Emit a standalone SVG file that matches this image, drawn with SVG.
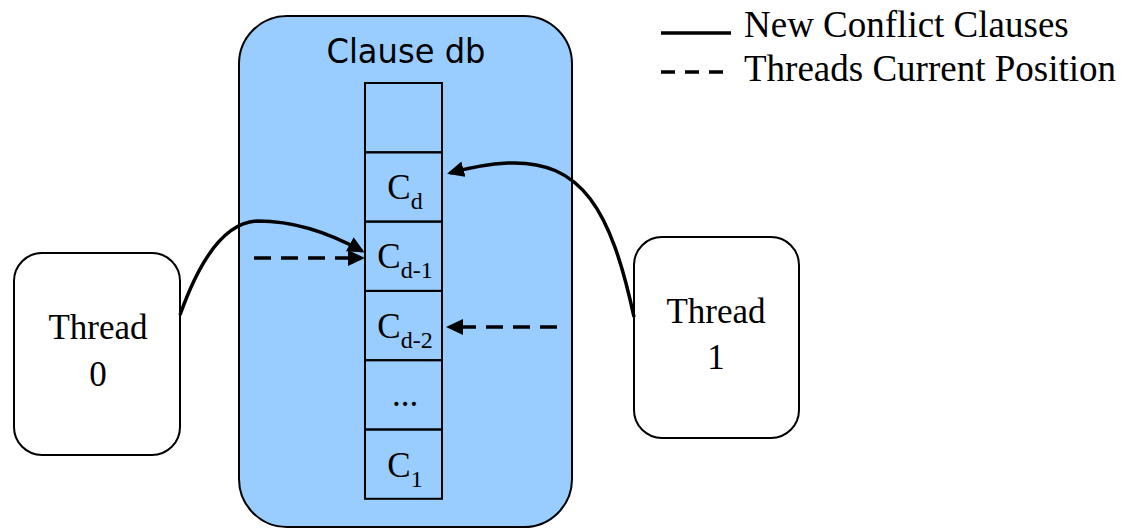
<svg xmlns="http://www.w3.org/2000/svg" width="1123" height="529" viewBox="0 0 1123 529">
  <style>
    .serif { font-family: "Liberation Serif", "Times New Roman", serif; fill: #000; }
    .box { fill: #fff; stroke: #000; stroke-width: 2; }
    .cell { fill: none; stroke: #000; stroke-width: 2; }
    .solid { fill: none; stroke: #000; stroke-width: 3.5; }
    .dash { fill: none; stroke: #000; stroke-width: 3.5; stroke-dasharray: 17 10; }
  </style>
  <defs>
    <marker id="arrow" markerUnits="userSpaceOnUse" markerWidth="18" markerHeight="16" refX="14" refY="8" orient="auto">
      <path d="M0,0 L17,8 L0,16 z" fill="#000"/>
    </marker>
  </defs>
  <rect width="1123" height="529" fill="#fff"/>

  <g id="clause-db">
    <rect x="239" y="16" width="333" height="511" rx="48" ry="48" fill="#99CCFF" stroke="#000" stroke-width="2"/>
    <text x="406" y="63" font-family="DejaVu Sans, Verdana, sans-serif" font-size="33" text-anchor="middle" textLength="159" lengthAdjust="spacingAndGlyphs">Clause db</text>
  </g>

  <g id="stack">
    <rect class="cell" x="365" y="83" width="77" height="69.3"/>
    <rect class="cell" x="365" y="152.3" width="77" height="69.3"/>
    <rect class="cell" x="365" y="221.6" width="77" height="69.3"/>
    <rect class="cell" x="365" y="290.9" width="77" height="69.3"/>
    <rect class="cell" x="365" y="360.2" width="77" height="69.3"/>
    <rect class="cell" x="365" y="429.5" width="77" height="69.3"/>
    <text class="serif" x="405" y="199" font-size="35" text-anchor="middle">C<tspan dy="10" font-size="24">d</tspan></text>
    <text class="serif" x="405" y="268" font-size="35" text-anchor="middle">C<tspan dy="10" font-size="24">d-1</tspan></text>
    <text class="serif" x="405" y="338" font-size="35" text-anchor="middle">C<tspan dy="10" font-size="24">d-2</tspan></text>
    <text class="serif" x="405" y="406" font-size="35" text-anchor="middle">...</text>
    <text class="serif" x="405" y="477" font-size="35" text-anchor="middle">C<tspan dy="10" font-size="24">1</tspan></text>
  </g>

  <g id="thread-0">
    <rect class="box" x="14" y="253" width="166" height="202" rx="28" ry="28"/>
    <text class="serif" x="98" y="339" font-size="35" text-anchor="middle">Thread</text>
    <text class="serif" x="98" y="386" font-size="35" text-anchor="middle">0</text>
  </g>

  <g id="thread-1">
    <rect class="box" x="634" y="237" width="165" height="201" rx="28" ry="28"/>
    <text class="serif" x="716" y="323" font-size="35" text-anchor="middle">Thread</text>
    <text class="serif" x="716" y="369" font-size="35" text-anchor="middle">1</text>
  </g>

  <g id="legend">
    <line x1="661" y1="33" x2="731" y2="33" stroke="#000" stroke-width="3.5"/>
    <line x1="661" y1="72" x2="731" y2="72" stroke="#000" stroke-width="3.5" stroke-dasharray="14 10"/>
    <text class="serif" x="744" y="37" font-size="37">New Conflict Clauses</text>
    <text class="serif" x="744" y="81" font-size="37">Threads Current Position</text>
  </g>

  <g id="connectors">
    <path class="solid" d="M180,315 Q213,222 258,221 Q308,221 362,251" marker-end="url(#arrow)"/>
    <path class="solid" d="M634,317 C611,210 582,160 508,163 C485,164 468,168 450,173" marker-end="url(#arrow)"/>
    <path class="dash" d="M254,258 L362,258" marker-end="url(#arrow)"/>
    <path class="dash" d="M557,327 L449,327" marker-end="url(#arrow)"/>
  </g>
</svg>
